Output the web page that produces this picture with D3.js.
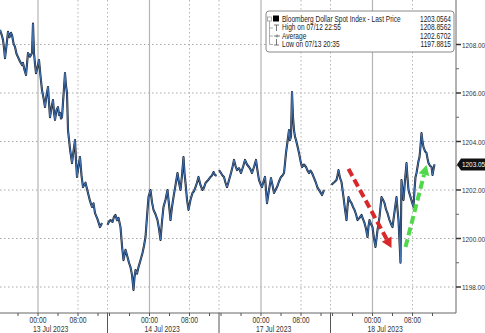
<!DOCTYPE html>
<html>
<head>
<meta charset="utf-8">
<script src="https://cdn.jsdelivr.net/npm/d3@7.9.0/dist/d3.min.js"></script>
<style>
  body { margin: 0; background: #fff; }
  svg { display: block; font-family: "Liberation Sans", sans-serif; }
</style>
</head>
<body>
<svg id="chart" width="485" height="333"></svg>
<script>
// sessions shown on the chart (gaps between sessions are squeezed out)
const days = ["13 Jul 2023", "14 Jul 2023", "17 Jul 2023", "18 Jul 2023"];
const labelHours = [0, 8];
const minorHours = [-8, -4, 0, 4, 8, 12];
const yTicks = [1198, 1200, 1202, 1204, 1206, 1208];
const yMinor = [1199, 1201, 1203, 1205, 1207];

// [hours from midnight of the session day, price]
const jul13 = [[-7.6,1208.60],[-7.3,1208.42],[-7.0,1208.19],[-6.8,1207.85],[-6.6,1207.44],[-6.3,1207.95],[-6.0,1208.52],[-5.7,1208.30],[-5.4,1208.48],[-5.2,1208.39],[-4.9,1208.05],[-4.6,1207.90],[-4.3,1207.62],[-4.0,1207.48],[-3.6,1207.30],[-3.2,1207.15],[-3.0,1207.24],[-2.7,1206.95],[-2.4,1206.74],[-2.2,1207.20],[-2.0,1207.65],[-1.6,1207.50],[-1.2,1207.65],[-1.0,1208.86],[-0.8,1207.65],[-0.6,1207.20],[-0.4,1206.82],[-0.1,1207.05],[0.2,1207.36],[0.5,1206.70],[0.8,1206.12],[1.1,1205.80],[1.4,1205.42],[1.7,1205.90],[2.0,1206.25],[2.2,1205.60],[2.4,1205.00],[2.7,1205.40],[3.0,1205.71],[3.2,1205.20],[3.4,1204.89],[3.7,1205.30],[4.0,1205.42],[4.2,1205.10],[4.4,1205.18],[4.6,1204.95],[4.8,1205.00],[5.1,1205.90],[5.4,1206.82],[5.6,1206.30],[5.8,1206.00],[6.0,1204.47],[6.4,1203.70],[6.8,1203.11],[7.1,1203.60],[7.4,1204.06],[7.6,1203.20],[7.8,1202.54],[8.1,1203.00],[8.4,1203.36],[8.7,1202.60],[9.0,1202.12],[9.5,1202.30],[10.0,1201.88],[10.4,1201.55],[10.8,1201.30],[11.1,1201.45],[11.4,1201.05],[11.9,1200.80],[12.4,1200.47],[12.8,1200.64]];
const jul14 = [[-8.4,1200.56],[-8.1,1200.70],[-7.8,1200.76],[-7.4,1200.68],[-7.1,1200.90],[-6.8,1200.97],[-6.5,1200.75],[-6.2,1200.85],[-5.8,1200.47],[-5.5,1199.70],[-5.2,1199.11],[-4.8,1199.53],[-4.4,1199.24],[-4.1,1199.00],[-3.8,1198.82],[-3.5,1198.50],[-3.2,1197.88],[-3.0,1198.40],[-2.8,1198.70],[-2.5,1198.55],[-2.2,1198.82],[-1.8,1199.10],[-1.4,1199.40],[-1.1,1199.70],[-0.8,1200.06],[-0.5,1200.90],[-0.2,1201.71],[0.2,1202.00],[0.5,1201.50],[0.8,1201.18],[1.2,1201.00],[1.6,1200.76],[1.9,1200.40],[2.2,1199.94],[2.5,1200.70],[2.8,1201.30],[3.2,1201.60],[3.6,1202.00],[3.9,1201.40],[4.2,1200.76],[4.5,1201.30],[4.8,1201.71],[5.2,1202.20],[5.6,1202.70],[5.9,1202.30],[6.2,1202.00],[6.5,1202.60],[6.8,1203.36],[7.0,1202.70],[7.2,1202.29],[7.5,1201.60],[7.8,1201.18],[8.2,1201.60],[8.6,1201.88],[8.9,1201.95],[9.2,1202.12],[9.5,1202.30],[9.8,1202.54],[10.2,1202.20],[10.6,1202.00],[10.9,1202.10],[11.2,1202.29],[11.7,1202.40],[12.2,1202.54],[12.5,1202.60],[12.8,1202.74],[13.1,1202.62],[13.4,1202.58]];
const jul17 = [[-8.4,1202.82],[-8.0,1202.70],[-7.7,1202.60],[-7.4,1202.54],[-7.1,1202.30],[-6.8,1202.12],[-6.4,1202.40],[-6.0,1202.70],[-5.7,1202.95],[-5.4,1203.24],[-5.1,1203.00],[-4.8,1202.82],[-4.4,1202.90],[-4.0,1202.70],[-3.6,1202.95],[-3.2,1203.24],[-2.8,1203.05],[-2.4,1202.95],[-2.1,1202.85],[-1.8,1202.70],[-1.4,1202.95],[-1.0,1203.24],[-0.7,1202.80],[-0.4,1202.41],[-0.1,1202.25],[0.2,1202.12],[0.5,1202.35],[0.8,1202.54],[1.0,1202.00],[1.2,1201.46],[1.6,1202.00],[2.0,1202.49],[2.3,1202.20],[2.6,1201.88],[2.9,1202.00],[3.2,1202.12],[3.6,1202.35],[4.0,1202.54],[4.3,1202.60],[4.6,1202.70],[4.8,1203.10],[5.0,1203.53],[5.3,1204.00],[5.6,1204.47],[5.8,1204.06],[6.0,1204.20],[6.2,1206.04],[6.4,1205.00],[6.6,1204.47],[6.8,1204.20],[7.0,1204.06],[7.3,1203.80],[7.6,1203.53],[7.9,1203.20],[8.2,1202.95],[8.6,1203.05],[9.0,1202.95],[9.3,1202.80],[9.6,1202.70],[9.9,1202.80],[10.2,1202.70],[10.6,1202.50],[11.0,1202.29],[11.3,1202.10],[11.6,1202.00],[11.9,1201.90],[12.2,1201.79],[12.6,1202.00]];
const jul18 = [[-8.2,1202.21],[-7.9,1202.28],[-7.6,1202.33],[-7.2,1202.41],[-7.0,1202.60],[-6.8,1202.82],[-6.5,1202.50],[-6.2,1202.33],[-5.8,1201.71],[-5.5,1201.20],[-5.2,1200.76],[-5.0,1201.30],[-4.8,1201.71],[-4.5,1201.55],[-4.2,1201.46],[-3.9,1201.30],[-3.6,1201.18],[-3.3,1201.00],[-3.0,1200.76],[-2.6,1200.85],[-2.2,1200.97],[-1.9,1200.80],[-1.6,1200.64],[-1.3,1200.40],[-1.0,1200.06],[-0.8,1200.50],[-0.6,1200.76],[-0.3,1200.60],[0.0,1200.47],[0.3,1200.00],[0.6,1199.65],[0.8,1200.00],[1.0,1200.35],[1.2,1200.60],[1.4,1200.89],[1.6,1201.30],[1.8,1201.71],[2.1,1201.60],[2.4,1201.46],[2.7,1201.20],[3.0,1201.05],[3.2,1200.90],[3.4,1200.76],[3.7,1200.60],[4.0,1200.47],[4.4,1201.10],[4.8,1201.71],[5.0,1201.20],[5.2,1200.76],[5.6,1199.00],[5.8,1202.41],[6.0,1202.00],[6.2,1201.59],[6.5,1202.40],[6.8,1203.11],[7.0,1202.50],[7.2,1202.00],[7.4,1201.85],[7.6,1201.71],[7.9,1201.50],[8.2,1201.30],[8.4,1202.00],[8.6,1202.54],[8.8,1202.70],[9.0,1202.95],[9.2,1203.20],[9.4,1203.36],[9.6,1203.80],[9.8,1204.35],[10.0,1204.00],[10.2,1203.77],[10.5,1203.60],[10.8,1203.53],[11.0,1203.30],[11.2,1203.11],[11.5,1203.00],[11.8,1202.95],[12.0,1202.62],[12.2,1202.85],[12.4,1203.0564]];
const sessions = [jul13, jul14, jul17, jul18];

const legendRows = [
  { label: "Bloomberg Dollar Spot Index - Last Price", value: "1203.0564" },
  { label: "High on 07/12 22:55", value: "1208.8562" },
  { label: "Average", value: "1202.6702" },
  { label: "Low on 07/13 20:35", value: "1197.8815" }
];
const lastPrice = 1203.0564;

// annotation arrows: [session, hour, price] start -> end
const redArrow = [[3, -4.8, 1202.87], [3, 3.8, 1199.61]];
const greenArrow = [[3, 6.6, 1199.65], [3, 10.8, 1203.03]];

const sessionLen = 22.3, sessionPre = 8.4;
const chartHour = (s, h) => s * sessionLen + sessionPre + h;

const svg = d3.select("#chart");
const axisX = 456, axisY = 313;

const x = d3.scaleLinear().domain([0, 92]).range([-4, axisX]);
const y = d3.scaleLinear().domain([1198, 1208]).range([287, 44.5]);

// horizontal dotted grid
svg.append("g").selectAll("line").data(yTicks).join("line")
  .attr("x1", 0).attr("x2", axisX)
  .attr("y1", d => y(d)).attr("y2", d => y(d))
  .attr("stroke", "#a8a8a8").attr("stroke-dasharray", "1.5,2.5");

// vertical grid
const vg = svg.append("g");
days.forEach((d, s) => {
  vg.append("line")
    .attr("x1", x(chartHour(s, 0))).attr("x2", x(chartHour(s, 0)))
    .attr("y1", 0).attr("y2", axisY)
    .attr("stroke", "#b4b4b4").attr("stroke-width", 1.2);
  vg.append("line")
    .attr("x1", x(chartHour(s, 8))).attr("x2", x(chartHour(s, 8)))
    .attr("y1", 0).attr("y2", axisY)
    .attr("stroke", "#b4b4b4").attr("stroke-dasharray", "1.5,2.5");
  if (s > 0) {
    const bx = x(s * sessionLen);
    vg.append("line")
      .attr("x1", bx).attr("x2", bx).attr("y1", 0).attr("y2", axisY)
      .attr("stroke", "#b4b4b4").attr("stroke-dasharray", "1.5,2.5");
    vg.append("line")
      .attr("x1", bx).attr("x2", bx).attr("y1", axisY).attr("y2", 333)
      .attr("stroke", "#555").attr("stroke-width", 1);
  }
});

// price line
const line = d3.line().x(d => x(d[0])).y(d => y(d[1]));
sessions.forEach((pts, s) => {
  const data = pts.map(p => [chartHour(s, p[0]), p[1]]);
  svg.append("path").datum(data).attr("d", line)
    .attr("fill", "none").attr("stroke", "#1a2638").attr("stroke-width", 2.1)
    .attr("stroke-linejoin", "round");
  svg.append("path").datum(data).attr("d", line)
    .attr("fill", "none").attr("stroke", "#4477b8").attr("stroke-width", 1)
    .attr("stroke-linejoin", "round");
});

// dashed arrows
function arrow(a, color) {
  const x1 = x(chartHour(a[0][0], a[0][1])), y1 = y(a[0][2]);
  const x2 = x(chartHour(a[1][0], a[1][1])), y2 = y(a[1][2]);
  const ang = Math.atan2(y2 - y1, x2 - x1);
  const head = 10, half = 5.5;
  const bx = x2 - head * Math.cos(ang), by = y2 - head * Math.sin(ang);
  svg.append("line")
    .attr("x1", x1).attr("y1", y1).attr("x2", bx).attr("y2", by)
    .attr("stroke", color).attr("stroke-width", 4).attr("stroke-dasharray", "8,4");
  svg.append("path")
    .attr("d", `M${x2},${y2}L${bx - half * Math.sin(ang)},${by + half * Math.cos(ang)}L${bx + half * Math.sin(ang)},${by - half * Math.cos(ang)}Z`)
    .attr("fill", color);
}
arrow(redArrow, "#d8282a");
arrow(greenArrow, "#4ed84a");

// right axis
svg.append("line").attr("x1", axisX).attr("x2", axisX).attr("y1", 0).attr("y2", axisY)
  .attr("stroke", "#666").attr("stroke-width", 1);
svg.append("g").selectAll("line").data(yTicks).join("line")
  .attr("x1", axisX).attr("x2", axisX + 5).attr("y1", d => y(d)).attr("y2", d => y(d))
  .attr("stroke", "#333").attr("stroke-width", 1.5);
svg.append("g").selectAll("line").data(yMinor).join("line")
  .attr("x1", axisX).attr("x2", axisX + 3).attr("y1", d => y(d)).attr("y2", d => y(d))
  .attr("stroke", "#666");
svg.append("g").selectAll("text").data(yTicks).join("text")
  .attr("x", axisX + 6).attr("y", d => y(d) + 3)
  .attr("font-size", 8).attr("fill", "#333")
  .text(d => d.toFixed(2));

// last price tag (terminal truncates, does not round)
const ly = y(lastPrice);
svg.append("path")
  .attr("d", `M${axisX + 1},${ly}L${axisX + 5},${ly - 6}H486V${ly + 6}H${axisX + 5}Z`)
  .attr("fill", "#111");
svg.append("text").attr("x", axisX + 6).attr("y", ly + 3)
  .attr("font-size", 8).attr("fill", "#fff")
  .text((Math.floor(lastPrice * 100) / 100).toFixed(2));

// bottom axis
svg.append("line").attr("x1", 0).attr("x2", axisX).attr("y1", axisY).attr("y2", axisY)
  .attr("stroke", "#666");
const bt = svg.append("g");
days.forEach((d, s) => {
  minorHours.forEach(h => {
    bt.append("line")
      .attr("x1", x(chartHour(s, h))).attr("x2", x(chartHour(s, h)))
      .attr("y1", axisY).attr("y2", axisY + 3).attr("stroke", "#555");
  });
  labelHours.forEach(h => {
    bt.append("text")
      .attr("x", x(chartHour(s, h))).attr("y", axisY + 10)
      .attr("text-anchor", "middle").attr("font-size", 8.5).attr("fill", "#333")
      .text(d3.format("02")(h) + ":00");
  });
  bt.append("text")
    .attr("x", x(chartHour(s, 0)) - 5).attr("y", axisY + 18.5)
    .attr("font-size", 8.5).attr("fill", "#333").text(d);
});

// legend box
const lg = svg.append("g").attr("transform", "translate(266,11)");
lg.append("rect").attr("width", 188).attr("height", 41).attr("rx", 3)
  .attr("fill", "#fff").attr("stroke", "#8a8a8a");
lg.append("path").attr("d", "M3.5,8V33.5M3.5,17H7M3.5,25H7M3.5,33.5H7")
  .attr("fill", "none").attr("stroke", "#999").attr("stroke-width", 0.8);
lg.append("rect").attr("x", 1.5).attr("y", 6).attr("width", 4).attr("height", 4)
  .attr("fill", "#fff").attr("stroke", "#999").attr("stroke-width", 0.8);
lg.append("rect").attr("x", 7).attr("y", 4.5).attr("width", 6).attr("height", 6).attr("fill", "#000");
lg.append("path").attr("d", "M8,14H13M10.5,14V20M8,25H14M11,23.5V26.5M10.5,28V34M8,34H13")
  .attr("fill", "none").attr("stroke", "#555").attr("stroke-width", 0.8);
lg.selectAll("text.lab").data(legendRows).join("text").attr("class", "lab")
  .attr("x", 16).attr("y", (d, i) => 11 + i * 8.3)
  .attr("font-size", 8.2).attr("fill", "#222").text(d => d.label);
lg.selectAll("text.val").data(legendRows).join("text").attr("class", "val")
  .attr("x", 185).attr("y", (d, i) => 11 + i * 8.3).attr("text-anchor", "end")
  .attr("font-size", 8.2).attr("fill", "#222").text(d => d.value);

// the terminal font is a narrow face: squeeze every label horizontally
svg.selectAll("text").each(function () {
  const w = this.getComputedTextLength();
  this.setAttribute("textLength", (w * 0.8).toFixed(1));
  this.setAttribute("lengthAdjust", "spacingAndGlyphs");
});
</script>
</body>
</html>
